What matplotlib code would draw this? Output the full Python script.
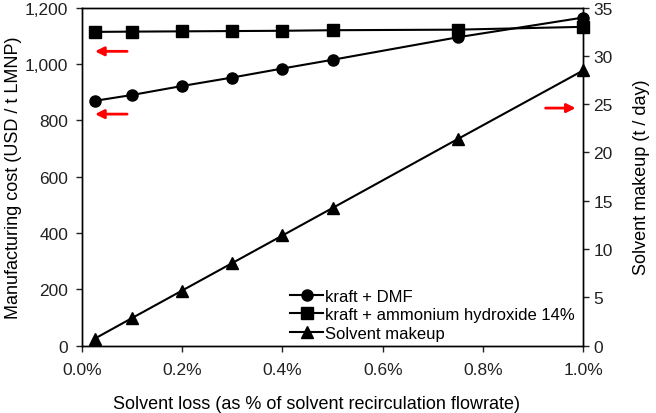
import matplotlib
matplotlib.use("Agg")
import matplotlib.pyplot as plt
from matplotlib.ticker import FuncFormatter

plt.rcParams['font.family'] = ['Liberation Sans', 'DejaVu Sans']

x_loss = [0.025, 0.1, 0.2, 0.3, 0.4, 0.5, 0.75, 1.0]
kraft_dmf = [869, 890, 922, 952, 984, 1015, 1095, 1165]
kraft_nh4oh = [1114, 1115, 1116, 1117, 1118, 1120, 1122, 1132]
solvent_makeup = [0.7, 2.85, 5.7, 8.55, 11.4, 14.25, 21.4, 28.5]

fig = plt.figure(figsize=(6.56, 4.14), dpi=100)
ax = fig.add_axes([0.125, 0.163, 0.764, 0.816])
ax2 = ax.twinx()

l1, = ax.plot(x_loss, kraft_dmf, '-o', color='black', lw=1.5, ms=8, label='kraft + DMF', clip_on=False, zorder=3)
l2, = ax.plot(x_loss, kraft_nh4oh, '-s', color='black', lw=1.5, ms=8, label='kraft + ammonium hydroxide 14%', clip_on=False, zorder=3)
l3, = ax2.plot(x_loss, solvent_makeup, '-^', color='black', lw=1.5, ms=8, label='Solvent makeup', clip_on=False, zorder=3)

ax.set_xlim(0, 1.0)
ax.set_ylim(0, 1200)
ax2.set_ylim(0, 35)
ax.set_xticks([0, 0.2, 0.4, 0.6, 0.8, 1.0])
ax.xaxis.set_major_formatter(FuncFormatter(lambda v, p: f"{v:.1f}%"))
ax.set_yticks(range(0, 1201, 200))
ax.yaxis.set_major_formatter(FuncFormatter(lambda v, p: f"{int(v):,}"))
ax2.set_yticks(range(0, 36, 5))

for a in (ax, ax2):
    a.tick_params(direction='out', length=4, width=1, labelsize=12.5, colors='#222222')
    for s in a.spines.values():
        s.set_linewidth(1)
ax.tick_params(axis='x', pad=8)
ax.tick_params(axis='y', pad=6)

ax.set_xlabel('Solvent loss (as % of solvent recirculation flowrate)', fontsize=13, labelpad=14)
ax.xaxis.set_label_coords(0.467, -0.145)
ax.set_ylabel('Manufacturing cost (USD / t LMNP)', fontsize=13, labelpad=2)
ax2.set_ylabel('Solvent makeup (t / day)', fontsize=13, labelpad=14)

# red arrows
arrow_kw = dict(arrowstyle='-|>', color='red', lw=2, mutation_scale=13, shrinkA=0, shrinkB=0)
ax.annotate('', xy=(0.026, 1045), xytext=(0.09, 1045), arrowprops=arrow_kw)
ax.annotate('', xy=(0.026, 822), xytext=(0.09, 822), arrowprops=arrow_kw)
ax2.annotate('', xy=(0.985, 24.6), xytext=(0.925, 24.6), arrowprops=arrow_kw)

ax.legend(handles=[l1, l2, l3], loc='lower left', bbox_to_anchor=(0.395, -0.015),
          frameon=False, fontsize=12, handlelength=2.0, handletextpad=0.1,
          labelspacing=0.2, borderaxespad=0.2)

fig.savefig('out.png', dpi=100)
